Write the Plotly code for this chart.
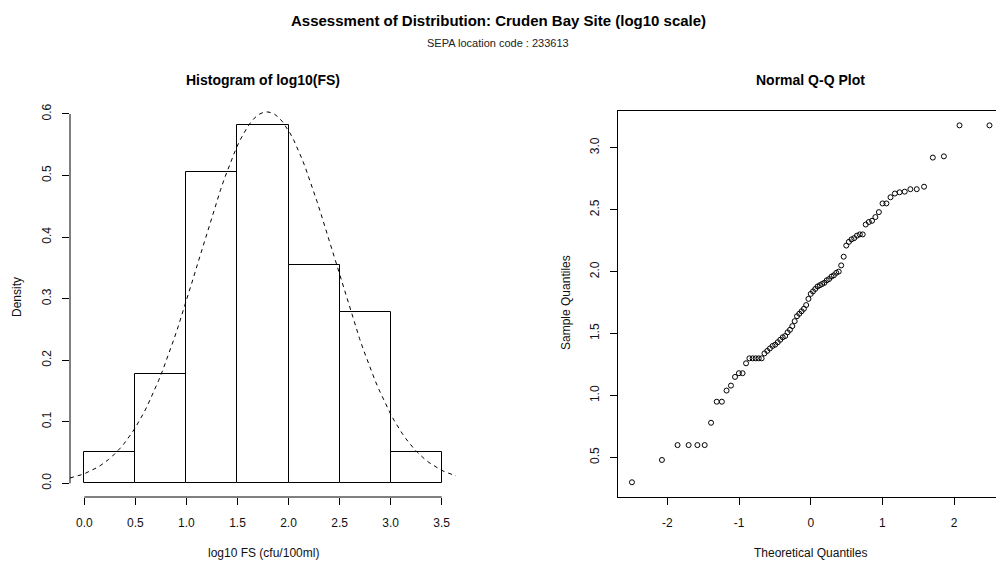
import numpy as np
import plotly.graph_objects as go
from statistics import NormalDist

# ---------------- data ----------------
SAMPLE_LOG10_FS = [
    0.30, 0.48,
    0.60, 0.60, 0.60, 0.60, 0.78, 0.95, 0.95,
    1.04, 1.08, 1.15, 1.18, 1.18, 1.26, 1.30, 1.30, 1.30, 1.30, 1.30,
    1.34, 1.36, 1.38, 1.40, 1.41, 1.43, 1.45, 1.47, 1.48,
    1.51, 1.53, 1.56, 1.60, 1.64, 1.66, 1.68, 1.70, 1.73, 1.78, 1.82, 1.84,
    1.86, 1.88, 1.89, 1.90, 1.91, 1.93, 1.94, 1.96, 1.97, 1.99, 2.00,
    2.05, 2.12, 2.21, 2.24, 2.26, 2.27, 2.29, 2.30, 2.30, 2.38, 2.40, 2.41,
    2.44, 2.48,
    2.55, 2.55, 2.60, 2.63, 2.64, 2.645, 2.665, 2.665, 2.685, 2.92, 2.93,
    3.18, 3.18,
]
HIST_BREAKS = [0.0, 0.5, 1.0, 1.5, 2.0, 2.5, 3.0, 3.5]
HIST_XTICKS = [0.0, 0.5, 1.0, 1.5, 2.0, 2.5, 3.0, 3.5]
HIST_XTICK_TEXT = ["0.0", "0.5", "1.0", "1.5", "2.0", "2.5", "3.0", "3.5"]
HIST_YTICKS = [0.0, 0.1, 0.2, 0.3, 0.4, 0.5, 0.6]
HIST_YTICK_TEXT = ["0.0", "0.1", "0.2", "0.3", "0.4", "0.5", "0.6"]
QQ_XTICKS = [-2, -1, 0, 1, 2]
QQ_XTICK_TEXT = ["-2", "-1", "0", "1", "2"]
QQ_YTICKS = [0.5, 1.0, 1.5, 2.0, 2.5, 3.0]
QQ_YTICK_TEXT = ["0.5", "1.0", "1.5", "2.0", "2.5", "3.0"]

MAIN_TITLE = "Assessment of Distribution: Cruden Bay Site (log10 scale)"
SUB_TITLE = "SEPA location code : 233613"

# ---------------- derived (as R's hist / qqnorm / curve(dnorm) do) ----------------
vals = sorted(SAMPLE_LOG10_FS)
n = len(vals)
counts = []
for j in range(len(HIST_BREAKS) - 1):
    lo, hi = HIST_BREAKS[j], HIST_BREAKS[j + 1]
    if j == 0:
        c = sum(1 for v in vals if lo <= v <= hi)
    else:
        c = sum(1 for v in vals if lo < v <= hi)
    counts.append(c)
widths = [HIST_BREAKS[j + 1] - HIST_BREAKS[j] for j in range(len(counts))]
mids = [(HIST_BREAKS[j + 1] + HIST_BREAKS[j]) / 2 for j in range(len(counts))]
density = [c / (n * w) for c, w in zip(counts, widths)]

mu = float(np.mean(vals))
sd = float(np.std(vals, ddof=1))
HIST_XRANGE = [-0.14, 3.64]
curve_x = np.linspace(HIST_XRANGE[0], HIST_XRANGE[1], 101)
nd = NormalDist(mu, sd)
curve_y = [nd.pdf(x) for x in curve_x]

theo = [NormalDist().inv_cdf((i - 0.5) / n) for i in range(1, n + 1)]

# ---------------- figure ----------------
W, H = 996, 564
def px(x):
    return x / W
def py(y):
    return 1 - y / H

fig = go.Figure()
fig.add_trace(go.Bar(
    x=mids, y=density, width=widths,
    marker=dict(color="white", line=dict(color="black", width=1)),
    xaxis="x", yaxis="y", hoverinfo="x+y",
))
fig.add_trace(go.Scatter(
    x=curve_x, y=curve_y, mode="lines",
    line=dict(color="black", width=1, dash="4px,4px"),
    xaxis="x", yaxis="y",
))
fig.add_trace(go.Scatter(
    x=theo, y=vals, mode="markers",
    marker=dict(symbol="circle-open", size=5, color="black", line=dict(width=1, color="black")),
    xaxis="x2", yaxis="y2",
))

tickfont = dict(family="Liberation Sans, Arial, sans-serif", size=12, color="#111")
common = dict(showgrid=False, zeroline=False, ticks="outside", ticklen=7,
              tickcolor="black", tickwidth=1, tickfont=tickfont)

fig.update_layout(
    width=W, height=H,
    margin=dict(l=0, r=0, t=0, b=0),
    paper_bgcolor="white", plot_bgcolor="white",
    showlegend=False, bargap=0,
    font=dict(family="Liberation Sans, Arial, sans-serif", color="black"),
    xaxis=dict(domain=[px(70), px(456)], range=HIST_XRANGE, anchor="y",
               tickvals=HIST_XTICKS, ticktext=HIST_XTICK_TEXT, showline=False,
               ticklabelstandoff=8, **common),
    yaxis=dict(domain=[py(497), py(97)], range=[-0.0223, 0.6276], anchor="x",
               tickvals=HIST_YTICKS, ticktext=HIST_YTICK_TEXT, showline=False,
               tickangle=-90, ticklabelstandoff=6, **common),
    xaxis2=dict(domain=[px(617.7), 1.0], range=[-2.692, 2.584], anchor="y2",
                tickvals=QQ_XTICKS, ticktext=QQ_XTICK_TEXT, showline=True,
                linecolor="black", linewidth=1, mirror=True,
                ticklabelstandoff=8, **common),
    yaxis2=dict(domain=[py(497), py(110.5)], range=[0.181, 3.300], anchor="x2",
                tickvals=QQ_YTICKS, ticktext=QQ_YTICK_TEXT, showline=True,
                linecolor="black", linewidth=1, mirror=False,
                tickangle=-90, ticklabelstandoff=6, **common),
)

# R-style axis lines that span only the tick range (histogram)
fig.add_shape(type="line", xref="x", yref="y domain",
              x0=HIST_XTICKS[0], x1=HIST_XTICKS[-1], y0=0, y1=0,
              line=dict(color="black", width=1))
fig.add_shape(type="line", xref="x domain", yref="y",
              x0=0, x1=0, y0=HIST_YTICKS[0], y1=HIST_YTICKS[-1],
              line=dict(color="black", width=1))

def ann(text, x, y, size, angle=0, bold=False, color="black"):
    fig.add_annotation(text=f"<b>{text}</b>" if bold else text,
                       x=x, y=y, xref="paper", yref="paper",
                       xanchor="center", yanchor="middle", showarrow=False,
                       textangle=angle,
                       font=dict(family="Liberation Sans, Arial, sans-serif",
                                 size=size, color=color))

ann(MAIN_TITLE, 0.5, py(20), 15, bold=True)
ann(SUB_TITLE, 0.5, py(43), 11, color="#222")
ann("Histogram of log10(FS)", px(263), py(80), 14, bold=True)
ann("Normal Q-Q Plot", px(810.7), py(80), 14, bold=True)
ann("log10 FS (cfu/100ml)", px(263), py(553), 12, color="#111")
ann("Theoretical Quantiles", px(810.7), py(553), 12, color="#111")
ann("Density", px(17), py(297), 12, angle=-90, color="#111")
ann("Sample Quantiles", px(566), py(303), 12, angle=-90, color="#111")

fig.write_html("out.html")
